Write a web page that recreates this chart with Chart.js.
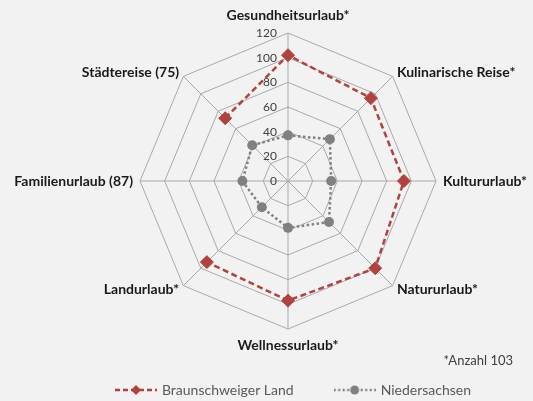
<!DOCTYPE html>
<html>
<head>
<meta charset="utf-8">
<script src="https://cdn.jsdelivr.net/npm/chart.js@4/dist/chart.umd.min.js"></script>
<style>
html,body{margin:0;padding:0;background:#f2f2f2;}
#wrap{width:533px;height:401px;position:relative;}
</style>
</head>
<body>
<div id="wrap"><canvas id="c" width="533" height="401"></canvas></div>
<script>
// ---- data ----
const categories = ['Gesundheitsurlaub*', 'Kulinarische Reise*', 'Kultururlaub*', 'Natururlaub*', 'Wellnessurlaub*', 'Landurlaub*', 'Familienurlaub (87)', 'Städtereise (75)'];
const braunschweigerLand = [102, 95, 94, 100, 97, 93, null, 72];
const niedersachsen = [37, 48, 35, 47, 38, 30, 37, 41];
const seriesNames = ['Braunschweiger Land', 'Niedersachsen'];
const tickLabels = ['0', '20', '40', '60', '80', '100', '120'];
const footnote = '*Anzahl 103';

// ---- styles ----
const RED = '#b0433f';
const GRAY = '#808080';
const GRID = '#a9a9a9';
const FONT = 'Lato';

function legendSample(color, dash, width, marker) {
  const cv = document.createElement('canvas');
  cv.width = 42; cv.height = 14;
  const g = cv.getContext('2d');
  g.strokeStyle = color; g.lineWidth = width; g.setLineDash(dash);
  g.beginPath(); g.moveTo(0, 7); g.lineTo(42, 7); g.stroke();
  g.setLineDash([]); g.fillStyle = color;
  g.beginPath();
  if (marker === 'diamond') { g.moveTo(21, 2); g.lineTo(26, 7); g.lineTo(21, 12); g.lineTo(16, 7); g.closePath(); }
  else { g.arc(21, 7, 4.5, 0, Math.PI * 2); }
  g.fill();
  return cv;
}
const legendImgs = [legendSample(RED, [5, 3], 2.5, 'diamond'), legendSample(GRAY, [2, 2.5], 2.5, 'circle')];

const tickLabelPlugin = {
  id: 'tickLabelPlugin',
  beforeDatasetsDraw(chart) {
    const s = chart.scales.r, ctx = chart.ctx;
    ctx.save();
    ctx.font = '12px ' + FONT;
    ctx.fillStyle = '#404040';
    ctx.textAlign = 'right';
    ctx.textBaseline = 'middle';
    s.ticks.forEach(t => {
      const d = s.getDistanceFromCenterForValue(t.value);
      ctx.fillText(t.label, s.xCenter - 11, s.yCenter - d);
    });
    ctx.restore();
  }
};

const pointLabelPlugin = {
  id: 'pointLabelPlugin',
  afterDatasetsDraw(chart) {
    const s = chart.scales.r, ctx = chart.ctx;
    ctx.save();
    ctx.font = 'bold 14px ' + FONT;
    ctx.fillStyle = '#1a1a1a';
    ctx.textBaseline = 'middle';
    chart.data.labels.forEach((lab, i) => {
      const a = s.getIndexAngle(i);
      const sx = Math.sin(a), cy = Math.cos(a);
      let pad;
      if (Math.abs(sx) < 0.01) pad = cy > 0 ? 18 : 16;
      else if (Math.abs(cy) < 0.01) pad = 7;
      else pad = 6;
      const p = s.getPointPosition(i, s.drawingArea + pad);
      ctx.textAlign = Math.abs(sx) < 0.01 ? 'center' : (sx > 0 ? 'left' : 'right');
      ctx.fillText(lab, p.x, p.y);
    });
    // footnote
    ctx.font = '13px ' + FONT;
    ctx.fillStyle = '#404040';
    ctx.textAlign = 'right';
    ctx.fillText(footnote, chart.width - 20, 361);
    ctx.restore();
  }
};

const canvas = document.getElementById('c');
const ctx0 = canvas.getContext('2d');
ctx0.letterSpacing = '0.2px';

new Chart(canvas, {
  type: 'radar',
  data: {
    labels: categories,
    datasets: [
      {
        label: seriesNames[0], data: braunschweigerLand,
        borderColor: RED, backgroundColor: RED, borderWidth: 2.5, borderDash: [6, 3.5],
        fill: false, spanGaps: false,
        pointStyle: 'rectRot', pointRadius: 6.5, pointBorderWidth: 1,
        pointBackgroundColor: RED, pointBorderColor: RED
      },
      {
        label: seriesNames[1], data: niedersachsen,
        borderColor: GRAY, backgroundColor: GRAY, borderWidth: 2.5, borderDash: [2.5, 2.5],
        fill: false, spanGaps: false,
        pointStyle: 'circle', pointRadius: 5, pointBorderWidth: 0,
        pointBackgroundColor: GRAY, pointBorderColor: GRAY
      }
    ]
  },
  options: {
    responsive: false,
    animation: false,
    devicePixelRatio: 1,
    layout: { padding: { left: 55, right: 0, top: 0, bottom: -6 } },
    scales: {
      r: {
        min: 0, max: 120,
        ticks: { stepSize: 20, display: false, callback: (v, i) => tickLabels[i] },
        grid: { circular: false, color: GRID, lineWidth: 1 },
        angleLines: { color: GRID, lineWidth: 1 },
        pointLabels: { display: false },
        afterFit(s) { s.xCenter = 288; s.yCenter = 181; s.drawingArea = 148; }
      }
    },
    plugins: {
      tooltip: { enabled: false },
      legend: {
        position: 'bottom',
        labels: {
          usePointStyle: true,
          pointStyleWidth: 38,
          boxHeight: 14,
          padding: 42,
          color: '#595959',
          font: { family: FONT, size: 14 },
          generateLabels: (chart) => Chart.defaults.plugins.legend.labels.generateLabels(chart)
            .map((l, i) => Object.assign(l, { pointStyle: legendImgs[i] }))
        }
      }
    }
  },
  plugins: [tickLabelPlugin, pointLabelPlugin]
});
</script>
</body>
</html>
